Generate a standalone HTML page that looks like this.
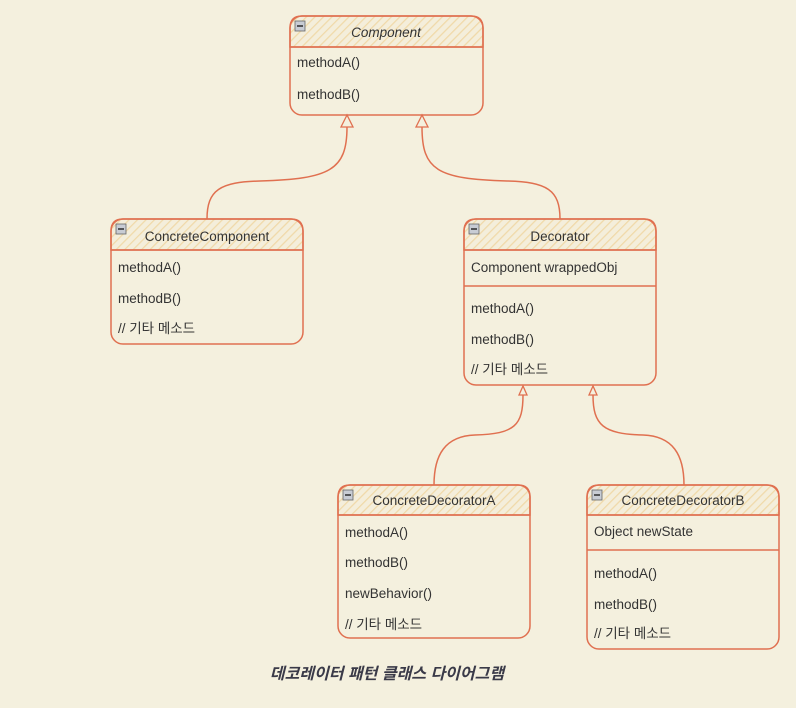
<!DOCTYPE html>
<html><head><meta charset="utf-8"><style>
body{margin:0;background:#f4f0de;}
svg{display:block;}
text{font-family:"Liberation Sans","Noto Sans CJK KR",sans-serif;font-size:13.5px;fill:#333;}
</style></head><body>
<svg width="796" height="708" xmlns="http://www.w3.org/2000/svg">
<defs>
<pattern id="h" width="6" height="6" patternUnits="userSpaceOnUse" patternTransform="rotate(45)">
<rect width="6" height="6" fill="#f4eedb"/><line x1="0" y1="0" x2="0" y2="6" stroke="#f0d9a8" stroke-width="2.5"/>
</pattern>
<g id="ico"><rect x="0" y="0" width="10" height="10" fill="#c8ccd4" stroke="#666" stroke-width="0.8"/><line x1="2" y1="5" x2="8" y2="5" stroke="#222" stroke-width="1.4"/></g>
</defs>
<g fill="none" stroke="#e07050" stroke-width="1.5">
<path d="M207 219 C207 190 220 182 260 181 C330 179 347 170 347 127"/>
<path d="M560 219 C560 190 547 182 507 181 C437 179 422 170 422 127"/>
<path d="M434 485 C434 455 445 436 475 435 C515 434 523 425 523 395"/>
<path d="M684 485 C684 455 673 436 643 435 C603 434 593 425 593 395"/>
</g>
<g fill="#f4f0de" stroke="#e07050" stroke-width="1.3">
<path d="M347 115 L341 127 L353 127 Z"/>
<path d="M422 115 L416 127 L428 127 Z"/>
<path d="M523 386 L519 395 L527 395 Z"/>
<path d="M593 386 L589 395 L597 395 Z"/>
</g>
<g stroke="#e07050" stroke-width="1.5">
<path d="M290 47 V28 Q290 16 302 16 H471 Q483 16 483 28 V47 Z" fill="url(#h)"/>
<rect x="290" y="16" width="193" height="99" rx="12" fill="none"/>
<line x1="290" y1="47" x2="483" y2="47"/>
</g>
<use href="#ico" x="295" y="21"/>
<text x="386" y="37" text-anchor="middle" font-style="italic">Component</text>
<text x="297" y="67">methodA()</text>
<text x="297" y="99">methodB()</text>
<g stroke="#e07050" stroke-width="1.5">
<path d="M111 250 V231 Q111 219 123 219 H291 Q303 219 303 231 V250 Z" fill="url(#h)"/>
<rect x="111" y="219" width="192" height="125" rx="12" fill="none"/>
<line x1="111" y1="250" x2="303" y2="250"/>
</g>
<use href="#ico" x="116" y="224"/>
<text x="207" y="241" text-anchor="middle">ConcreteComponent</text>
<text x="118" y="272">methodA()</text>
<text x="118" y="303">methodB()</text>
<text x="118" y="333">// 기타 메소드</text>
<g stroke="#e07050" stroke-width="1.5">
<path d="M464 250 V231 Q464 219 476 219 H644 Q656 219 656 231 V250 Z" fill="url(#h)"/>
<rect x="464" y="219" width="192" height="166" rx="12" fill="none"/>
<line x1="464" y1="250" x2="656" y2="250"/>
<line x1="464" y1="286" x2="656" y2="286"/>
</g>
<use href="#ico" x="469" y="224"/>
<text x="560" y="241" text-anchor="middle">Decorator</text>
<text x="471" y="272">Component wrappedObj</text>
<text x="471" y="313">methodA()</text>
<text x="471" y="344">methodB()</text>
<text x="471" y="374">// 기타 메소드</text>
<g stroke="#e07050" stroke-width="1.5">
<path d="M338 515 V497 Q338 485 350 485 H518 Q530 485 530 497 V515 Z" fill="url(#h)"/>
<rect x="338" y="485" width="192" height="153" rx="12" fill="none"/>
<line x1="338" y1="515" x2="530" y2="515"/>
</g>
<use href="#ico" x="343" y="490"/>
<text x="434" y="505" text-anchor="middle">ConcreteDecoratorA</text>
<text x="345" y="537">methodA()</text>
<text x="345" y="567">methodB()</text>
<text x="345" y="598">newBehavior()</text>
<text x="345" y="629">// 기타 메소드</text>
<g stroke="#e07050" stroke-width="1.5">
<path d="M587 515 V497 Q587 485 599 485 H767 Q779 485 779 497 V515 Z" fill="url(#h)"/>
<rect x="587" y="485" width="192" height="164" rx="12" fill="none"/>
<line x1="587" y1="515" x2="779" y2="515"/>
<line x1="587" y1="550" x2="779" y2="550"/>
</g>
<use href="#ico" x="592" y="490"/>
<text x="683" y="505" text-anchor="middle">ConcreteDecoratorB</text>
<text x="594" y="536">Object newState</text>
<text x="594" y="578">methodA()</text>
<text x="594" y="609">methodB()</text>
<text x="594" y="638">// 기타 메소드</text>
<text x="387" y="679" text-anchor="middle" font-style="italic" font-weight="bold" style="font-size:16px;fill:#3a3a48">데코레이터 패턴 클래스 다이어그램</text>
</svg>
</body></html>
